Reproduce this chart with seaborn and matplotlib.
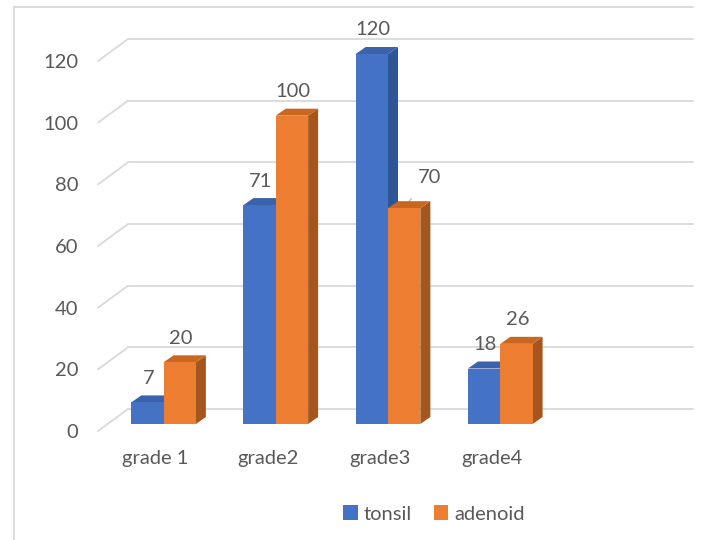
import matplotlib
matplotlib.use("Agg")
import matplotlib.pyplot as plt
import matplotlib.transforms as mtransforms
from matplotlib.patches import Polygon
from matplotlib.lines import Line2D
import seaborn as sns
import pandas as pd

# data
grades = ["grade 1", "grade2", "grade3", "grade4"]
tonsil = [7, 71, 120, 18]
adenoid = [20, 100, 70, 26]
series = ["tonsil", "adenoid"]

front_cols = {"tonsil": "#4472C4", "adenoid": "#ED7D31"}
side_cols = {"tonsil": "#2F5597", "adenoid": "#A5561D"}
top_cols = {"tonsil": "#3A63AC", "adenoid": "#C9661F"}
txt_col = "#595959"
grid_col = "#D9D9D9"
fs = 14.5

df = pd.DataFrame({
    "grade": grades * 2,
    "count": tonsil + adenoid,
    "organ": ["tonsil"] * len(grades) + ["adenoid"] * len(grades),
})

sns.set_theme(style="white")
plt.rcParams["font.family"] = ["Lato", "DejaVu Sans"]

W, H = 701, 540
fig = plt.figure(figsize=(W / 100, H / 100), dpi=100)
# axes: left 98px, right 663px, bar baseline at 424px, value 120 at 54px
ax = fig.add_axes([98 / W, (H - 424) / H, (663 - 98) / W, 370 / H])

sns.barplot(data=df, x="grade", y="count", hue="organ", hue_order=series,
            palette=front_cols, saturation=1, width=0.576, linewidth=0,
            ax=ax, zorder=3)
ax.set_xlim(-0.584, 4.45)
ax.set_ylim(0, 120)
ax.set_xlabel("")
ax.set_ylabel("")
for s in ax.spines.values():
    s.set_visible(False)
ax.grid(False)

bbox = ax.get_window_extent()
xspan = ax.get_xlim()[1] - ax.get_xlim()[0]
yspan = ax.get_ylim()[1] - ax.get_ylim()[0]


def px(dx, dy):
    return dx * xspan / bbox.width, dy * yspan / bbox.height


# back-wall gridlines with a slanted floor segment at the front-left
ticks = list(range(0, 121, 20))
bx, by = px(30, 15)
fx, fy = px(0, -7)
x0, x1 = ax.get_xlim()
for v in ticks:
    ax.plot([x0 + bx, x1 + bx], [v + by, v + by], color=grid_col, lw=1.3,
            zorder=0, clip_on=False)
    ax.plot([x0 + fx, x0 + bx], [v + fy, v + by], color=grid_col, lw=1.3,
            zorder=0, clip_on=False)

# 3D faces on each bar
dx, dy = px(10, 7)
n = len(grades)
for i, bar in enumerate(ax.patches[:2 * n]):
    name = series[i // n]
    z = 2 if name == "tonsil" else 4
    bar.set_zorder(z + 0.5)
    xl, w, h = bar.get_x(), bar.get_width(), bar.get_height()
    xr = xl + w
    side = Polygon([(xr, 0), (xr + dx, dy), (xr + dx, h + dy), (xr, h)],
                   closed=True, facecolor=side_cols[name], lw=0, zorder=z,
                   clip_on=False)
    top = Polygon([(xl, h), (xr, h), (xr + dx, h + dy), (xl + dx, h + dy)],
                  closed=True, facecolor=top_cols[name], lw=0, zorder=z,
                  clip_on=False)
    ax.add_patch(side)
    ax.add_patch(top)

# data labels
lx, ly = px(1, 24)
for i, bar in enumerate(ax.patches[:2 * n]):
    h = bar.get_height()
    cx = bar.get_x() + bar.get_width() / 2
    if series[i // n] == "adenoid" and h == 70:
        ox, oy = px(25, 31)
        ax.annotate(f"{h:.0f}", xy=(cx, h + px(0, 1)[1]), xytext=(cx + ox, h + oy),
                    ha="center", va="center", fontsize=fs, color=txt_col,
                    annotation_clip=False,
                    arrowprops=dict(arrowstyle="-", color="#BFBFBF", lw=1,
                                    shrinkA=9, shrinkB=0))
    else:
        ax.text(cx + lx, h + ly, f"{h:.0f}", ha="center", va="center",
                fontsize=fs, color=txt_col, zorder=6)

# ticks: values at the front edge, categories below
ax.set_yticks(ticks)
ax.tick_params(axis="y", length=0, pad=14, labelsize=fs, labelcolor=txt_col)
ax.tick_params(axis="x", length=0, pad=19, labelsize=fs, labelcolor=txt_col)
shift_y = mtransforms.ScaledTranslation(0, -0.07, fig.dpi_scale_trans)
for lab in ax.get_yticklabels():
    lab.set_transform(lab.get_transform() + shift_y)
shift_x = mtransforms.ScaledTranslation(-0.08, 0, fig.dpi_scale_trans)
for lab in ax.get_xticklabels():
    lab.set_transform(lab.get_transform() + shift_x)

sns.move_legend(ax, "center", bbox_to_anchor=(434 / W, 1 - 514 / H),
                bbox_transform=fig.transFigure, ncol=2, frameon=False,
                title=None, fontsize=fs, handlelength=0.7, handleheight=0.7,
                handletextpad=0.3, columnspacing=1.1)
for t in ax.get_legend().get_texts():
    t.set_color(txt_col)

# chart-area border (top and left edges visible)
fig.add_artist(Line2D([14 / W, 693 / W], [1 - 7 / H, 1 - 7 / H],
                      transform=fig.transFigure, color=grid_col, lw=1.3))
fig.add_artist(Line2D([14 / W, 14 / W], [1 - 7 / H, 0],
                      transform=fig.transFigure, color=grid_col, lw=1.3))

fig.savefig("out.png", dpi=100, facecolor="white")
